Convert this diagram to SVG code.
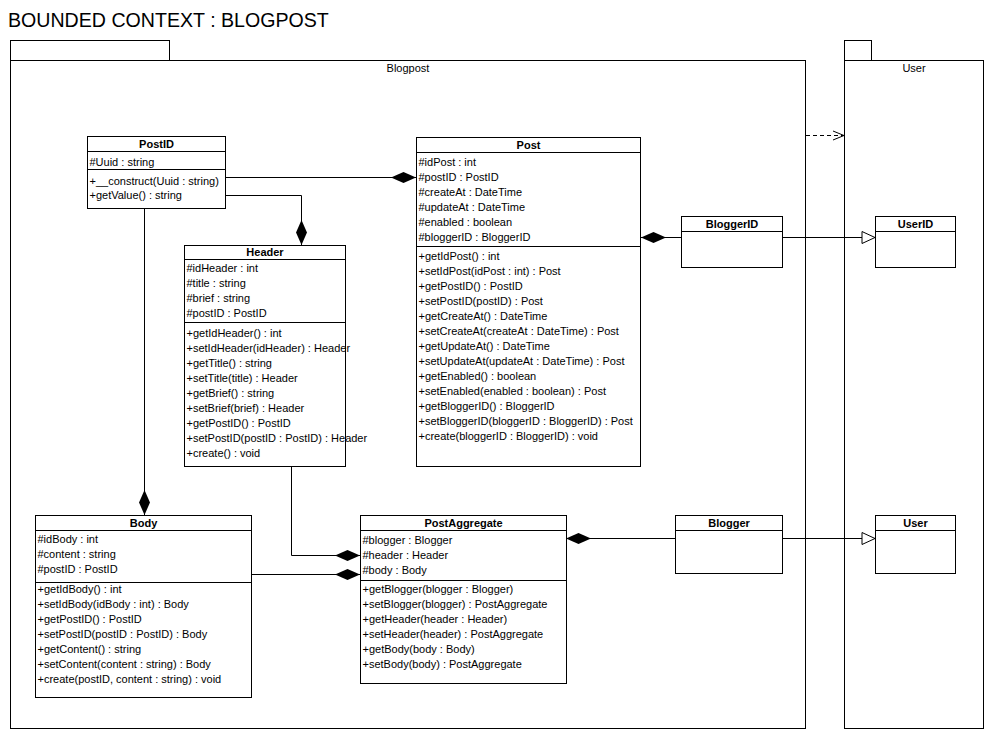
<svg xmlns="http://www.w3.org/2000/svg" width="988" height="733" viewBox="0 0 988 733">
<style>
.pk{fill:#fff;stroke:#000;stroke-width:1}
.bx{fill:#fff;stroke:#000;stroke-width:1}
.ln{stroke:#000;stroke-width:1;fill:none}
text{font-family:"Liberation Sans",Arial,sans-serif;font-size:11px;fill:#000}
.t{font-weight:bold;text-anchor:middle}
.c{text-anchor:middle}
.h{font-size:19.6px}
</style>
<defs>
<marker id="dia" markerUnits="userSpaceOnUse" markerWidth="30" markerHeight="14" refX="0" refY="0" orient="auto" overflow="visible"><path d="M0,0 L12.5,-5.5 L25,0 L12.5,5.5 Z" fill="#000"/></marker>
<marker id="tri" markerUnits="userSpaceOnUse" markerWidth="16" markerHeight="14" refX="0" refY="0" orient="auto" overflow="visible"><path d="M-13,-6 L0,0 L-13,6 Z" fill="#fff" stroke="#000"/></marker>
<marker id="opn" markerUnits="userSpaceOnUse" markerWidth="14" markerHeight="10" refX="0" refY="0" orient="auto" overflow="visible"><path d="M-11,-4.5 L0,0 L-11,4.5" fill="none" stroke="#000"/></marker>
</defs>
<rect width="988" height="733" fill="#fff"/>
<text x="8" y="27" class="h">BOUNDED CONTEXT : BLOGPOST</text>

<g id="pkg-blogpost">
<rect class="pk" x="10.5" y="40.5" width="159" height="20"/>
<rect class="pk" x="10.5" y="60.5" width="795" height="668"/>
<text x="408" y="72" class="c">Blogpost</text>
</g>
<g id="pkg-user">
<rect class="pk" x="844.5" y="40.5" width="27" height="20"/>
<rect class="pk" x="844.5" y="60.5" width="139" height="668"/>
<text x="914" y="72" class="c">User</text>
</g>

<g id="connectors">
<path class="ln" d="M416,177.5 L225,177.5" marker-start="url(#dia)"/>
<path class="ln" d="M301.5,245 L301.5,195.5 L225,195.5" marker-start="url(#dia)"/>
<path class="ln" d="M144.5,515 L144.5,208.5" marker-start="url(#dia)"/>
<path class="ln" d="M360,555.5 L291.5,555.5 L291.5,466" marker-start="url(#dia)"/>
<path class="ln" d="M360,574.5 L251,574.5" marker-start="url(#dia)"/>
<path class="ln" d="M641,237.5 L681,237.5" marker-start="url(#dia)"/>
<path class="ln" d="M566,538.5 L675,538.5" marker-start="url(#dia)"/>
<path class="ln" d="M782,237.5 L875,237.5" marker-end="url(#tri)"/>
<path class="ln" d="M782,538.5 L875,538.5" marker-end="url(#tri)"/>
<path class="ln" d="M806,135.5 L844,135.5" stroke-dasharray="4,3" marker-end="url(#opn)"/>
</g>

<g id="PostID">
<rect class="bx" x="87.5" y="136.5" width="138" height="72"/>
<path class="ln" d="M87.5,151.5 H225.5 M87.5,169.5 H225.5"/>
<text x="156.5" y="148" class="t">PostID</text>
<text x="89.5" y="166">#Uuid : string</text>
<text x="89.5" y="185">+__construct(Uuid : string)</text>
<text x="89.5" y="199">+getValue() : string</text>
</g>

<g id="Post">
<rect class="bx" x="416.5" y="137.5" width="224" height="329"/>
<path class="ln" d="M416.5,152.5 H640.5 M416.5,246.5 H640.5"/>
<text x="528.5" y="149" class="t">Post</text>
<text x="418.5" y="166">#idPost : int</text>
<text x="418.5" y="181">#postID : PostID</text>
<text x="418.5" y="196">#createAt : DateTime</text>
<text x="418.5" y="211">#updateAt : DateTime</text>
<text x="418.5" y="226">#enabled : boolean</text>
<text x="418.5" y="241">#bloggerID : BloggerID</text>
<text x="418.5" y="260">+getIdPost() : int</text>
<text x="418.5" y="275">+setIdPost(idPost : int) : Post</text>
<text x="418.5" y="290">+getPostID() : PostID</text>
<text x="418.5" y="305">+setPostID(postID) : Post</text>
<text x="418.5" y="320">+getCreateAt() : DateTime</text>
<text x="418.5" y="335">+setCreateAt(createAt : DateTime) : Post</text>
<text x="418.5" y="350">+getUpdateAt() : DateTime</text>
<text x="418.5" y="365">+setUpdateAt(updateAt : DateTime) : Post</text>
<text x="418.5" y="380">+getEnabled() : boolean</text>
<text x="418.5" y="395">+setEnabled(enabled : boolean) : Post</text>
<text x="418.5" y="410">+getBloggerID() : BloggerID</text>
<text x="418.5" y="425">+setBloggerID(bloggerID : BloggerID) : Post</text>
<text x="418.5" y="440">+create(bloggerID : BloggerID) : void</text>
</g>

<g id="Header">
<rect class="bx" x="184.5" y="245.5" width="161" height="221"/>
<path class="ln" d="M184.5,259.5 H345.5 M184.5,322.5 H345.5"/>
<text x="265" y="256" class="t">Header</text>
<text x="186.5" y="272">#idHeader : int</text>
<text x="186.5" y="287">#title : string</text>
<text x="186.5" y="302">#brief : string</text>
<text x="186.5" y="317">#postID : PostID</text>
<text x="186.5" y="337">+getIdHeader() : int</text>
<text x="186.5" y="352">+setIdHeader(idHeader) : Header</text>
<text x="186.5" y="367">+getTitle() : string</text>
<text x="186.5" y="382">+setTitle(title) : Header</text>
<text x="186.5" y="397">+getBrief() : string</text>
<text x="186.5" y="412">+setBrief(brief) : Header</text>
<text x="186.5" y="427">+getPostID() : PostID</text>
<text x="186.5" y="442">+setPostID(postID : PostID) : Header</text>
<text x="186.5" y="457">+create() : void</text>
</g>

<g id="Body">
<rect class="bx" x="35.5" y="515.5" width="216" height="182"/>
<path class="ln" d="M35.5,530.5 H251.5 M35.5,582.5 H251.5"/>
<text x="143.5" y="527" class="t">Body</text>
<text x="37.5" y="543">#idBody : int</text>
<text x="37.5" y="558">#content : string</text>
<text x="37.5" y="573">#postID : PostID</text>
<text x="37.5" y="593">+getIdBody() : int</text>
<text x="37.5" y="608">+setIdBody(idBody : int) : Body</text>
<text x="37.5" y="623">+getPostID() : PostID</text>
<text x="37.5" y="638">+setPostID(postID : PostID) : Body</text>
<text x="37.5" y="653">+getContent() : string</text>
<text x="37.5" y="668">+setContent(content : string) : Body</text>
<text x="37.5" y="683">+create(postID, content : string) : void</text>
</g>

<g id="PostAggregate">
<rect class="bx" x="360.5" y="515.5" width="206" height="168"/>
<path class="ln" d="M360.5,530.5 H566.5 M360.5,580.5 H566.5"/>
<text x="463.5" y="527" class="t">PostAggregate</text>
<text x="362.5" y="544">#blogger : Blogger</text>
<text x="362.5" y="559">#header : Header</text>
<text x="362.5" y="574">#body : Body</text>
<text x="362.5" y="593">+getBlogger(blogger : Blogger)</text>
<text x="362.5" y="608">+setBlogger(blogger) : PostAggregate</text>
<text x="362.5" y="623">+getHeader(header : Header)</text>
<text x="362.5" y="638">+setHeader(header) : PostAggregate</text>
<text x="362.5" y="653">+getBody(body : Body)</text>
<text x="362.5" y="668">+setBody(body) : PostAggregate</text>
</g>

<g id="BloggerID">
<rect class="bx" x="681.5" y="216.5" width="101" height="51"/>
<path class="ln" d="M681.5,231.5 H782.5"/>
<text x="732" y="228" class="t">BloggerID</text>
</g>
<g id="UserID">
<rect class="bx" x="875.5" y="216.5" width="80" height="51"/>
<path class="ln" d="M875.5,231.5 H955.5"/>
<text x="915.5" y="228" class="t">UserID</text>
</g>
<g id="Blogger">
<rect class="bx" x="675.5" y="515.5" width="107" height="58"/>
<path class="ln" d="M675.5,530.5 H782.5"/>
<text x="729" y="527" class="t">Blogger</text>
</g>
<g id="User">
<rect class="bx" x="875.5" y="515.5" width="80" height="58"/>
<path class="ln" d="M875.5,530.5 H955.5"/>
<text x="915.5" y="527" class="t">User</text>
</g>
</svg>
